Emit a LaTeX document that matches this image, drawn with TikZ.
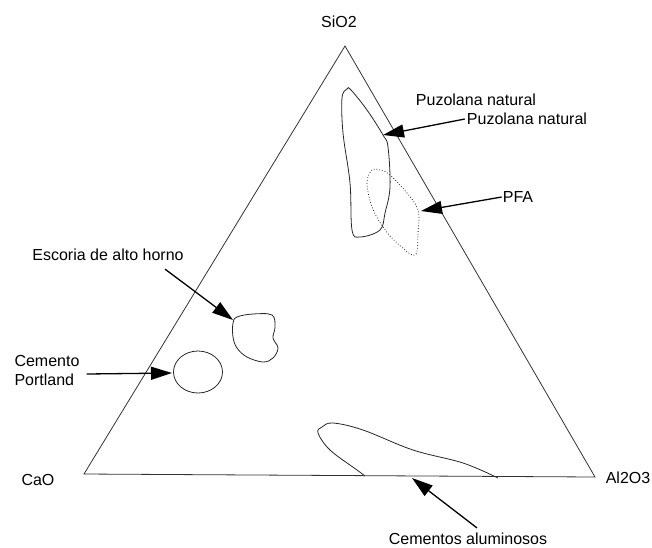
\documentclass[tikz,border=0pt]{standalone}
\usepackage{fontspec}
\setmainfont{Liberation Sans}
\usetikzlibrary{arrows.meta}
\begin{document}
\begin{tikzpicture}[x=1pt,y=-1pt,
  lbl/.style={inner sep=0pt,font=\fontsize{16}{19}\selectfont},
  edge/.style={draw=black!80,line width=0.8pt},
  blob/.style={draw=black!85,line width=0.8pt},
  pointer/.style={draw=black,line width=1.3pt,-{Triangle[length=21pt,width=13pt]}}]
\useasboundingbox (0,0) rectangle (652,547);
% triangle
\coordinate (S) at (345,46);
\coordinate (C) at (84,474);
\coordinate (A) at (595,477);
\draw[edge] (S) -- (C) -- (A) -- cycle;
% vertex labels
\node[lbl] (sio) at (339,22) {SiO2};
\node[lbl] (cao) at (38,480) {CaO};
\node[lbl] (alo) at (628,478) {Al2O3};
% regions
\draw[blob] plot[smooth cycle,tension=0.6] coordinates {(347,89) (342,98) (343,133) (350,183) (352,230) (360,237) (380,230) (385,213) (390,187) (388,147) (383,135) (367,110) (351,90)};
\draw[blob,dotted] plot[smooth cycle,tension=0.6] coordinates {(372,170) (367,183) (372,207) (383,227) (397,243) (415,255) (418,233) (418,210) (407,193) (390,175) (380,170)};
\draw[blob] plot[smooth cycle,tension=0.6] coordinates {(233,323) (237,317) (253,314) (272,315) (275,327) (273,338) (278,348) (273,358) (263,362) (247,357) (237,348) (233,337)};
\draw[blob] (198,372) ellipse[x radius=24.5,y radius=21];
\draw[blob] plot[smooth,tension=0.6] coordinates {(365,476) (357,470) (330,450) (318,433) (322,427) (333,423) (363,430) (413,450) (463,463) (498,478)};
% tip coordinates
\coordinate (tpuz) at (383,135);
\coordinate (tpfa) at (421,211);
\coordinate (tesc) at (233,320);
\coordinate (tpor) at (172,373);
\coordinate (talu) at (412,478);
% labels
\node[lbl] (puz1) at (476,100) {Puzolana natural};
\node[lbl] (puz2) at (527,119) {Puzolana natural};
\node[lbl] (pfa) at (518,197) {PFA};
\node[lbl] (esc) at (108,255) {Escoria de alto horno};
\node[lbl,align=left] (por) at (47,370) {Cemento\\Portland};
\node[lbl] (alu) at (468,539) {Cementos aluminosos};
% arrows
\draw[pointer] ([xshift=-2pt]puz2.west) -- (tpuz);
\draw[pointer] ([xshift=-1pt]pfa.west) -- (tpfa);
\draw[pointer] ([xshift=57pt,yshift=-8pt]esc.south) -- (tesc);
\draw[pointer] ([xshift=7pt,yshift=-4pt]por.east) -- (tpor);
\draw[pointer] ([xshift=9pt,yshift=5pt]alu.north) -- (talu);
\end{tikzpicture}
\end{document}
